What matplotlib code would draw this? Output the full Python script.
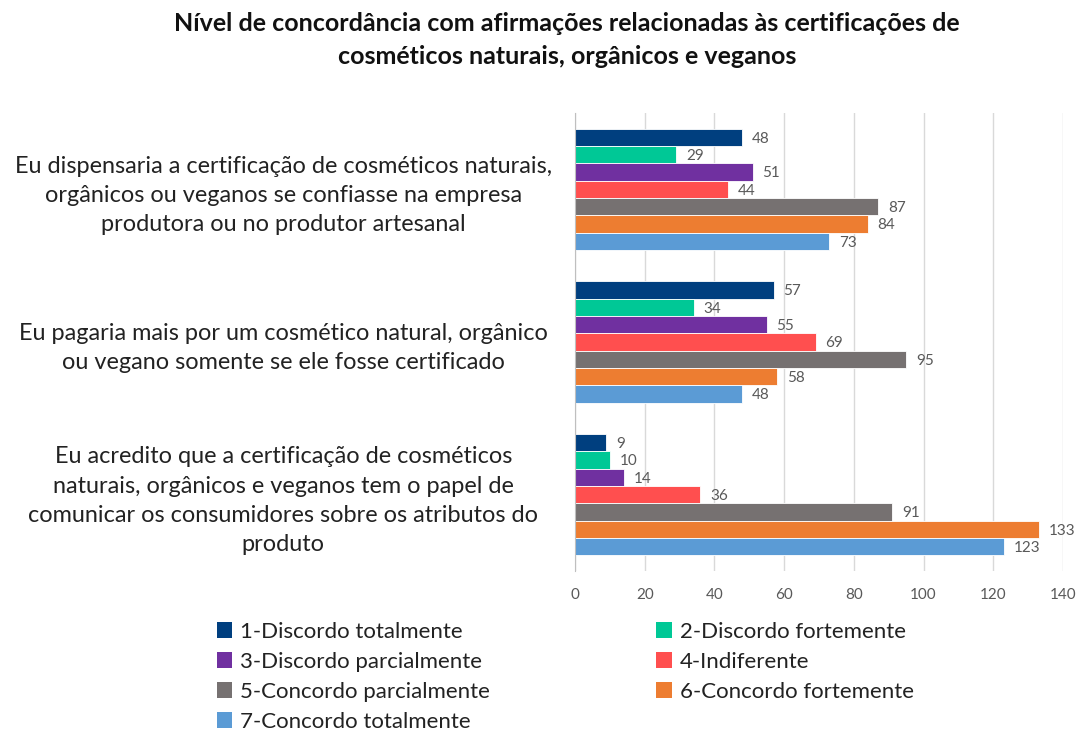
import matplotlib
matplotlib.use("Agg")
import matplotlib.pyplot as plt
from matplotlib.patches import Patch

plt.rcParams['font.family'] = ['Lato', 'DejaVu Sans']

categories = [
    "Eu dispensaria a certificação de cosméticos naturais,\norgânicos ou veganos se confiasse na empresa\nprodutora ou no produtor artesanal",
    "Eu pagaria mais por um cosmético natural, orgânico\nou vegano somente se ele fosse certificado",
    "Eu acredito que a certificação de cosméticos\nnaturais, orgânicos e veganos tem o papel de\ncomunicar os consumidores sobre os atributos do\nproduto",
]
series_names = [
    "1-Discordo totalmente",
    "2-Discordo fortemente",
    "3-Discordo parcialmente",
    "4-Indiferente",
    "5-Concordo parcialmente",
    "6-Concordo fortemente",
    "7-Concordo totalmente",
]
s1 = [48, 57, 9]
s2 = [29, 34, 10]
s3 = [51, 55, 14]
s4 = [44, 69, 36]
s5 = [87, 95, 91]
s6 = [84, 58, 133]
s7 = [73, 48, 123]
series_values = [s1, s2, s3, s4, s5, s6, s7]
colors = ["#003F7F", "#00C896", "#7030A0", "#FF4F4F", "#767171", "#ED7D31", "#5B9BD5"]
xticks = [0, 20, 40, 60, 80, 100, 120, 140]

fig = plt.figure(figsize=(10.83, 7.33), dpi=100)
ax = fig.add_axes([575/1083, 1-571/733, (1063-575)/1083, (571-113)/733])

n = len(series_names)
h = 0.1137
for j, (name, vals, c) in enumerate(zip(series_names, series_values, colors)):
    ys = [i - (n*h)/2 + h*(j+0.5) for i in range(len(categories))]
    ax.barh(ys, vals, height=h, color=c, edgecolor="white", linewidth=0.6, label=name, zorder=3)
    for y, v in zip(ys, vals):
        ax.annotate(str(v), (v, y), xytext=(7, -1), textcoords="offset points",
                    ha="left", va="center", fontsize=11, color="#595959", zorder=4)

ax.set_ylim(2.5, -0.5)
ax.set_xlim(0, 140)
ax.set_xticks(xticks)
ax.set_xticklabels([str(t) for t in xticks], fontsize=11, color="#595959")
ax.set_yticks(range(len(categories)))
ax.set_yticklabels(categories, fontsize=16.9, color="#222222", ha="center", linespacing=1.49)
ax.tick_params(axis="y", length=0, pad=210)
ax.tick_params(axis="x", length=0, pad=12)
ax.grid(axis="x", color="#D9D9D9", linewidth=1, zorder=0)
for s in ["top", "right", "bottom"]:
    ax.spines[s].set_visible(False)
ax.spines["left"].set_color("#BFBFBF")
ax.spines["left"].set_zorder(5)

fig.text(567/1083, 1-40/733, "Nível de concordância com afirmações relacionadas às certificações de\ncosméticos naturais, orgânicos e veganos",
         ha="center", va="center", fontsize=18, fontweight="bold", color="#111111", linespacing=1.5)

order = [0, 2, 4, 6, 1, 3, 5]
handles = [Patch(facecolor=colors[k], edgecolor="none") for k in order]
labels = [series_names[k] for k in order]
fig.legend(handles, labels, ncol=2, loc="upper left",
           bbox_to_anchor=(201/1083, 1-606/733), frameon=False, fontsize=16,
           handlelength=0.7, handleheight=0.7, handletextpad=0.35,
           columnspacing=7.5, labelspacing=0.45, labelcolor="#222222",
           borderaxespad=0.3)

fig.savefig("out.png", dpi=100)
